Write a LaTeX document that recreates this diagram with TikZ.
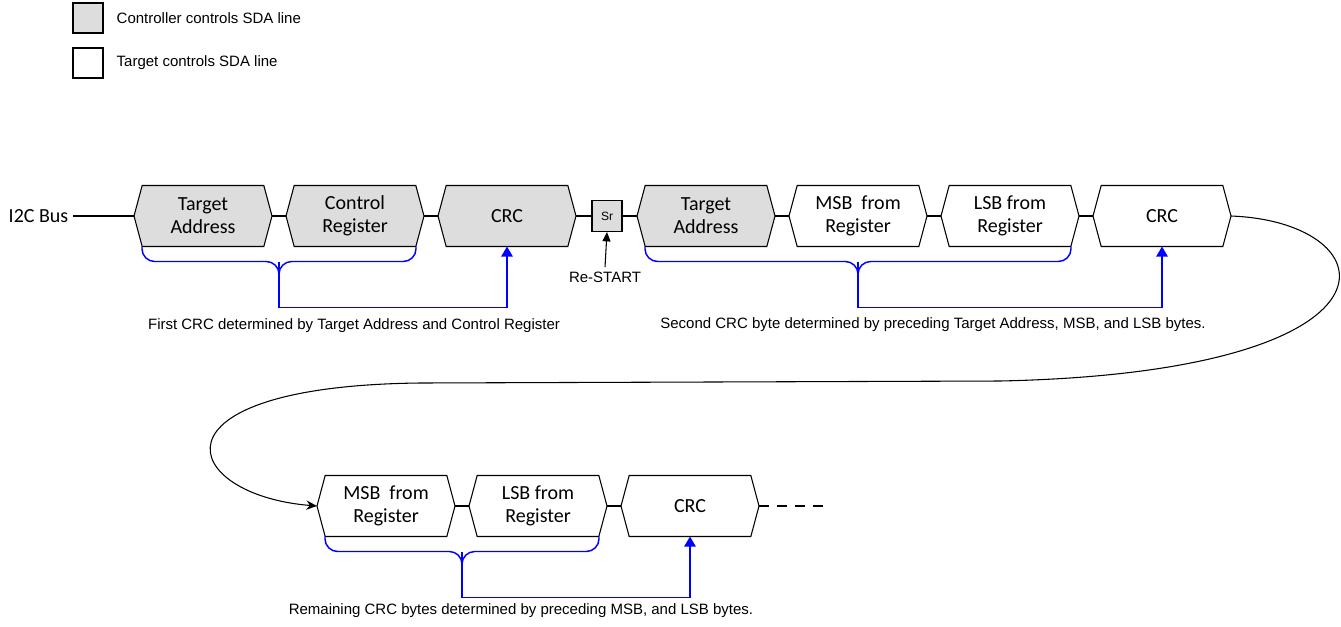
\documentclass[tikz,border=0pt]{standalone}
\usepackage{fontspec}
\setmainfont{Carlito}
\newfontfamily\arial{Liberation Sans}
\usetikzlibrary{shapes.symbols,calc,arrows.meta}
\definecolor{ctlgray}{RGB}{221,221,221}
\tikzset{
  byte/.style={draw, signal, signal to=east and west, signal pointer angle=150,
    minimum width=103.5pt, minimum height=45.75pt, inner sep=0pt, outer sep=0pt,
    align=center, line width=0.8pt, font=\fontsize{15}{17.25}\selectfont},
  ctl/.style={byte, fill=ctlgray},
  tgt/.style={byte, fill=white},
  legbox/.style={draw, line width=0.8pt, minimum size=22.5pt, inner sep=0pt},
  srbox/.style={draw, fill=ctlgray, line width=0.8pt, minimum width=22.5pt,
    minimum height=23.25pt, inner sep=0pt, font=\arial\fontsize{9}{10}\selectfont},
  note/.style={font=\arial\fontsize{11.25}{13}\selectfont},
  wire/.style={line width=0.8pt},
  brace/.style={draw=blue, line width=1.1pt, rounded corners=9.5pt},
  tip/.style={-{Triangle[width=8.5pt,length=7.5pt]}},
}
\begin{document}
\begin{tikzpicture}[x=0.75pt, y=-0.75pt]
\useasboundingbox (0,0) rectangle (1341,626);
% legend
\node[legbox, fill=ctlgray] (lgc) at (88,18) {};
\node[note, anchor=west] (lgctxt) at (112,18) {Controller controls SDA line};
\node[legbox, fill=white] (lgt) at (88,63) {};
\node[note, anchor=west] (lgttxt) at (112,63) {Target controls SDA line};
% first frame
\node[anchor=east, font=\fontsize{15}{17.25}\selectfont] (bus) at (73,216) {I2C Bus};
\node[ctl] (ta1) at (203,216) {Target\\Address};
\node[ctl] (cr) at (355,216) {Control\\Register};
\node[ctl] (crc1) at (507,216) {CRC};
\node[srbox] (sr) at (607,216) {Sr};
\node[ctl] (ta2) at (706,216) {Target\\Address};
\node[tgt] (msb1) at (858,216) {MSB\ \ from\\Register};
\node[tgt] (lsb1) at (1010,216) {LSB from\\Register};
\node[tgt] (crc2) at (1162,216) {CRC};
\draw[wire] (bus.east) -- (ta1.west);
\draw[wire] (ta1.east) -- (cr.west);
\draw[wire] (cr.east) -- (crc1.west);
\draw[wire] (crc1.east) -- (sr.west);
\draw[wire] (sr.east) -- (ta2.west);
\draw[wire] (ta2.east) -- (msb1.west);
\draw[wire] (msb1.east) -- (lsb1.west);
\draw[wire] (lsb1.east) -- (crc2.west);
\node[note] (rs) at (605,277) {Re-START};
\draw[wire, -{Triangle[width=6pt,length=7pt]}] (rs.north) -- (sr.south);
% crc brackets
\draw[brace] ($(ta1.south)+(-61,0)$) |- ($(ta1.south)!0.5!(cr.south)+(0,15)$) -- ++(0,20);
\draw[brace] ($(cr.south)+(61,0)$) |- ($(ta1.south)!0.5!(cr.south)+(0,15)$) -- ++(0,20);
\draw[brace, sharp corners, tip] ($(ta1.south)!0.5!(cr.south)+(0,15)$) -- ++(0,46) -| (crc1.south);
\node[note] (n1) at (354,326) {First CRC determined by Target Address and Control Register};
\draw[brace] ($(ta2.south)+(-61,0)$) |- ($(msb1.south)+(0,15)$) -- ++(0,20);
\draw[brace] ($(lsb1.south)+(61,0)$) |- ($(msb1.south)+(0,15)$) -- ++(0,20);
\draw[brace, sharp corners, tip] ($(msb1.south)+(0,15)$) -- ++(0,46) -| (crc2.south);
\node[note] (n2) at (933,325) {Second CRC byte determined by preceding Target Address, MSB, and LSB bytes.};
% following bytes
\node[tgt] (msb2) at (386,506) {MSB\ \ from\\Register};
\node[tgt] (lsb2) at (538,506) {LSB from\\Register};
\node[tgt] (crc3) at (690,506) {CRC};
\coordinate (more) at (830,506);
\draw[wire] (msb2.east) -- (lsb2.west);
\draw[wire] (lsb2.east) -- (crc3.west);
\draw[wire, dash pattern=on 7.5pt off 6pt] (crc3.east) -- (more);
\draw[wire, -{Stealth[length=8pt,width=7pt]}] (crc2.east) .. controls (1390,222) and (1420,372) .. (1000,381)
  -- (420,383) .. controls (140,386) and (180,495) .. (msb2.west);
\draw[brace] ($(msb2.south)+(-61,0)$) |- ($(msb2.south)!0.5!(lsb2.south)+(0,15)$) -- ++(0,20);
\draw[brace] ($(lsb2.south)+(61,0)$) |- ($(msb2.south)!0.5!(lsb2.south)+(0,15)$) -- ++(0,20);
\draw[brace, sharp corners, tip] ($(msb2.south)!0.5!(lsb2.south)+(0,15)$) -- ++(0,46) -| (crc3.south);
\node[note] (n3) at (521,611) {Remaining CRC bytes determined by preceding MSB, and LSB bytes.};
\end{tikzpicture}
\end{document}
